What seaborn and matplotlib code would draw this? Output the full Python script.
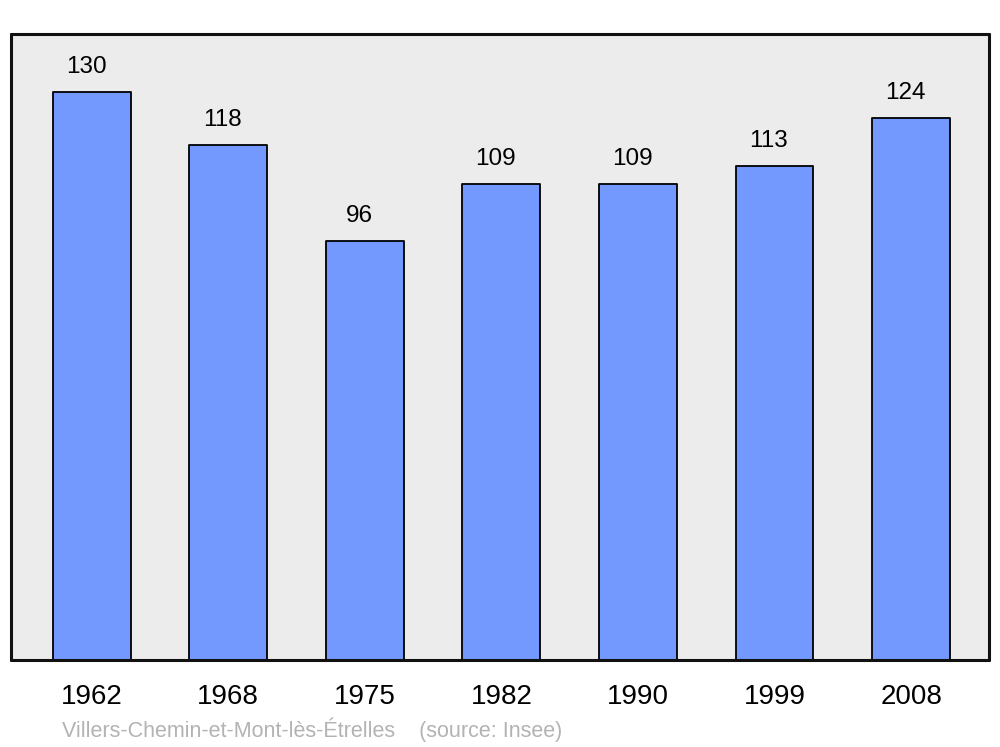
import pandas as pd
import seaborn as sns
import matplotlib.pyplot as plt

# population data
years = ['1962', '1968', '1975', '1982', '1990', '1999', '2008']
population = [130, 118, 96, 109, 109, 113, 124]

town = 'Villers-Chemin-et-Mont-lès-Étrelles'
source = '(source: Insee)'

df = pd.DataFrame({'year': years, 'pop': population})

sns.set_style('white')
plt.rcParams['font.family'] = ['Liberation Sans', 'DejaVu Sans']
plt.rcParams['text.color'] = 'black'
plt.rcParams['xtick.color'] = 'black'

fig = plt.figure(figsize=(10, 7.47), dpi=100)
ax = fig.add_axes([0.011, 0.1165, 0.978, 0.838])
ax.set_facecolor('#ececec')

sns.barplot(data=df, x='year', y='pop', color='#7399ff', saturation=1,
            width=0.57, edgecolor='black', linewidth=1.3, ax=ax)
for p in ax.patches:
    p.set_joinstyle('round')

# value labels above the bars
for i, v in enumerate(population):
    ax.annotate(str(v), (i, v), xytext=(-4, 10), textcoords='offset points',
                ha='center', va='bottom', fontsize=17.5, color='black')

ax.set_xlim(-0.59, 6.57)
ax.set_ylim(0, 143.3)
ax.set_yticks([])
ax.set_xlabel('')
ax.set_ylabel('')
ax.tick_params(axis='x', length=0, pad=17, labelsize=20, labelcolor='black')

for s in ax.spines.values():
    s.set_visible(True)
    s.set_linewidth(2.2)
    s.set_color('#111111')
    s.set_capstyle('round')

fig.text(0.062, 0.0225, town + '    ' + source, color='#b3b3b3',
         fontsize=15.5, ha='left', va='center')

fig.savefig('out.png', dpi=100)
